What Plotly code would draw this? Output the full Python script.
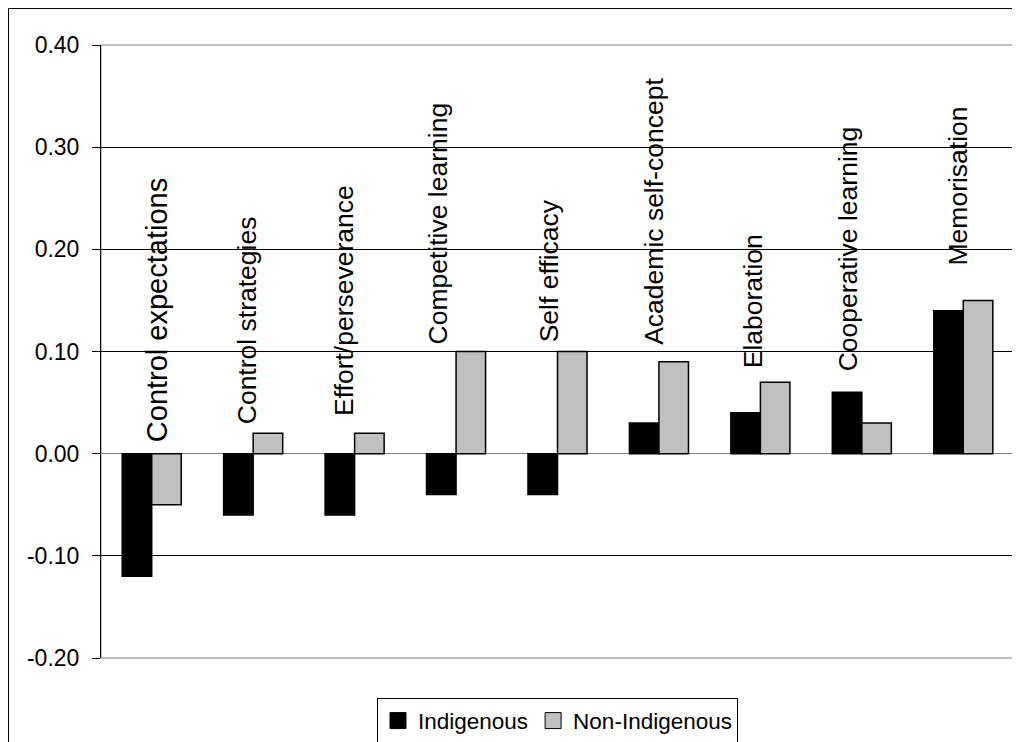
import plotly.graph_objects as go

categories = ["Control expectations", "Control strategies", "Effort/perseverance",
              "Competitive learning", "Self efficacy", "Academic self-concept",
              "Elaboration", "Cooperative learning", "Memorisation"]
indigenous = [-0.12, -0.06, -0.06, -0.04, -0.04, 0.03, 0.04, 0.06, 0.14]
non_indigenous = [-0.05, 0.02, 0.02, 0.10, 0.10, 0.09, 0.07, 0.03, 0.15]
series_names = ["Indigenous", "Non-Indigenous"]
tick_values = [-0.20, -0.10, 0.00, 0.10, 0.20, 0.30, 0.40]
tick_labels = ["-0.20", "-0.10", "0.00", "0.10", "0.20", "0.30", "0.40"]

# label placement (style): bottom of rotated label in axis units, pixel shift, font size
label_bottom = [0.009, 0.027, 0.035, 0.105, 0.107, 0.105, 0.082, 0.079, 0.182]
label_shift = [6, -6, -10, -18, -9, -5, -8, -13, -5]
label_size = [29, 26.5, 26.5, 26.5, 26.5, 26.5, 26.5, 26.5, 26.5]

FONT = "Liberation Sans, Arial, sans-serif"
COLORS = ["#000000", "#C0C0C0"]

fig = go.Figure()
for name, vals, col in zip(series_names, [indigenous, non_indigenous], COLORS):
    fig.add_trace(go.Bar(x=categories, y=vals, name=name, showlegend=False,
                         marker=dict(color=col, line=dict(color="#000000", width=1.5))))
# legend entries with larger square swatches
for name, col in zip(series_names, COLORS):
    fig.add_trace(go.Scatter(x=[None], y=[None], mode="markers", name=name,
                             marker=dict(symbol="square", size=16, color=col,
                                         line=dict(color="#000000", width=1))))

for c, yb, dx, fs in zip(categories, label_bottom, label_shift, label_size):
    fig.add_annotation(x=c, y=yb, xref="x", yref="y", text=c, textangle=-90,
                       showarrow=False, xanchor="center", yanchor="bottom",
                       xshift=dx, font=dict(family=FONT, size=fs, color="#000000"))

# plot-area border (grey) and outer chart border (at the figure edge)
fig.add_shape(type="rect", xref="paper", yref="paper", x0=0, x1=1, y0=0, y1=1,
              line=dict(color="#808080", width=1), layer="below")
fig.add_shape(type="rect", xref="paper", yref="paper", x0=-0.1013, x1=1.1, y0=-0.3, y1=1.0595,
              line=dict(color="#000000", width=1), layer="below")

fig.update_layout(
    width=1012, height=734,
    margin=dict(l=93, r=6, t=37, b=83.5, autoexpand=False),
    paper_bgcolor="white", plot_bgcolor="white",
    barmode="group", bargap=0.418, bargroupgap=0,
    font=dict(family=FONT, size=22, color="#000000"),
    showlegend=True,
    legend=dict(orientation="h", x=0.5, xanchor="center", y=-0.066, yanchor="top",
                bordercolor="#000000", borderwidth=1, bgcolor="white",
                font=dict(family=FONT, size=22.5, color="#000000"),
                itemwidth=30, tracegroupgap=0),
    xaxis=dict(type="category", showticklabels=False, ticks="", showgrid=False,
               zeroline=False, showline=False, range=[-0.5, 8.5]),
    yaxis=dict(range=[-0.20, 0.40], tickvals=tick_values, ticktext=tick_labels,
               showgrid=True, gridcolor="#000000", gridwidth=1,
               zeroline=True, zerolinecolor="#808080", zerolinewidth=1,
               showline=True, linecolor="#000000", linewidth=1,
               ticks="outside", ticklen=8, tickcolor="#000000",
               ticklabelstandoff=8,
               tickfont=dict(family=FONT, size=23, color="#000000")),
)

fig.write_html("out.html")
